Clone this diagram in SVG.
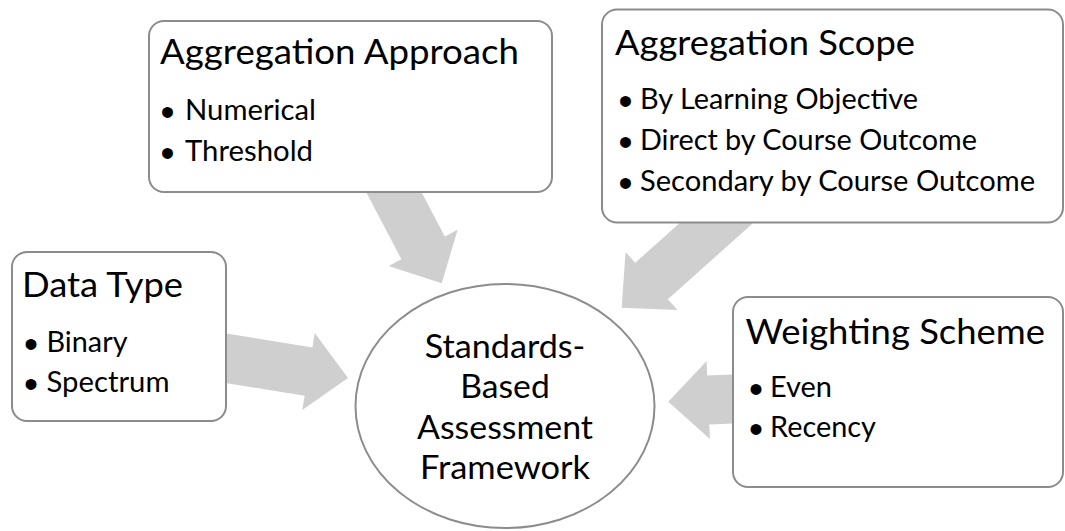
<svg xmlns="http://www.w3.org/2000/svg" width="1065" height="531" viewBox="0 0 1065 531">
<style>
.box{fill:#ffffff;stroke:#8c8c8c;stroke-width:2}
.arr{fill:#cfcfcf;stroke:none}
text{font-family:Lato,"Open Sans","Liberation Sans",sans-serif;fill:#000000}
.t{font-size:35.5px}
.b{font-size:28.4px}
.c{font-size:32.5px;text-anchor:middle}
.dot{font-family:"Liberation Sans",Arial,sans-serif;font-size:40px}
</style>
<defs>
<path id="arrowA" d="M0,0 L-40,-39 L-40,-24.5 L-140,-24.5 L-140,24.5 L-40,24.5 L-40,39 Z"/>
<path id="arrowB" d="M0,0 L-40,-39 L-40,-24.5 L-170,-24.5 L-170,24.5 L-40,24.5 L-40,39 Z"/>
</defs>
<rect width="1065" height="531" fill="#ffffff"/>
<g id="connectors">
<use href="#arrowA" class="arr" transform="translate(441.7,283.3) rotate(62.3)"/>
<use href="#arrowB" class="arr" transform="translate(621.7,307.7) rotate(138.2)"/>
<use href="#arrowA" class="arr" transform="translate(348,378) rotate(9.2)"/>
<use href="#arrowA" class="arr" transform="translate(668.3,401.7) rotate(177.6)"/>
</g>
<g id="aggregation-approach">
<rect class="box" x="149" y="21" width="403" height="171" rx="15"/>
<text class="t" x="160" y="64" textLength="359" lengthAdjust="spacingAndGlyphs">Aggregation Approach</text>
<text class="dot" x="160.5" y="126">•</text>
<text class="b" x="185" y="120" textLength="131" lengthAdjust="spacingAndGlyphs">Numerical</text>
<text class="dot" x="160.5" y="167">•</text>
<text class="b" x="185" y="161" textLength="128" lengthAdjust="spacingAndGlyphs">Threshold</text>
</g>
<g id="aggregation-scope">
<rect class="box" x="602" y="9.5" width="461" height="213" rx="15"/>
<text class="t" x="615" y="54.5" textLength="300" lengthAdjust="spacingAndGlyphs">Aggregation Scope</text>
<text class="dot" x="618.5" y="114.5">•</text>
<text class="b" x="640" y="108.5" textLength="278" lengthAdjust="spacingAndGlyphs">By Learning Objective</text>
<text class="dot" x="618.5" y="155.5">•</text>
<text class="b" x="640" y="149.5" textLength="337" lengthAdjust="spacingAndGlyphs">Direct by Course Outcome</text>
<text class="dot" x="618.5" y="196.5">•</text>
<text class="b" x="640" y="190.5" textLength="395" lengthAdjust="spacingAndGlyphs">Secondary by Course Outcome</text>
</g>
<g id="data-type">
<rect class="box" x="12" y="252" width="214" height="169" rx="15"/>
<text class="t" x="22" y="297" textLength="161" lengthAdjust="spacingAndGlyphs">Data Type</text>
<text class="dot" x="24" y="358">•</text>
<text class="b" x="46.5" y="352" textLength="81" lengthAdjust="spacingAndGlyphs">Binary</text>
<text class="dot" x="24" y="398">•</text>
<text class="b" x="46.5" y="392" textLength="123" lengthAdjust="spacingAndGlyphs">Spectrum</text>
</g>
<g id="weighting-scheme">
<rect class="box" x="733" y="297" width="330" height="190" rx="15"/>
<text class="t" x="745.5" y="343.5" textLength="299.5" lengthAdjust="spacingAndGlyphs">Weighting Scheme</text>
<text class="dot" x="749" y="403">•</text>
<text class="b" x="770" y="397" textLength="62" lengthAdjust="spacingAndGlyphs">Even</text>
<text class="dot" x="749" y="443">•</text>
<text class="b" x="770" y="437" textLength="106" lengthAdjust="spacingAndGlyphs">Recency</text>
</g>
<g id="framework">
<ellipse class="box" cx="505" cy="406" rx="149.5" ry="122"/>
<text class="c" x="505" y="357.5" textLength="160.5" lengthAdjust="spacingAndGlyphs">Standards-</text>
<text class="c" x="505" y="398" textLength="89.5" lengthAdjust="spacingAndGlyphs">Based</text>
<text class="c" x="505" y="438.5" textLength="176" lengthAdjust="spacingAndGlyphs">Assessment</text>
<text class="c" x="505" y="478.5" textLength="170" lengthAdjust="spacingAndGlyphs">Framework</text>
</g>
</svg>
